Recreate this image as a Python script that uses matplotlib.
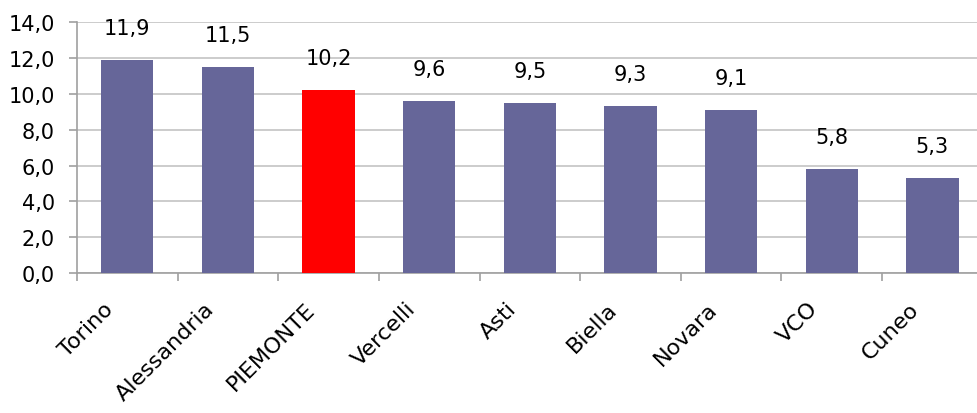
import numpy as np
import matplotlib.pyplot as plt
from matplotlib.transforms import ScaledTranslation

# province values
provinces = ['Torino', 'Alessandria', 'PIEMONTE', 'Vercelli', 'Asti', 'Biella', 'Novara', 'VCO', 'Cuneo']
values = [11.9, 11.5, 10.2, 9.6, 9.5, 9.3, 9.1, 5.8, 5.3]
y_ticks = [0, 2, 4, 6, 8, 10, 12, 14]

plt.rcParams['font.family'] = ['DejaVu Sans']

fig = plt.figure(figsize=(9.77, 4.14), dpi=100)
ax = fig.add_axes([0.0788, 0.338, 0.927, 0.606])

x = np.arange(len(provinces))
colors = ['#ff0000' if p == 'PIEMONTE' else '#666699' for p in provinces]
ax.bar(x, values, width=0.52, color=colors, zorder=3)

for xi, v in zip(x, values):
    ax.annotate(('%.1f' % v).replace('.', ','), xy=(xi, v), xytext=(0, 32),
                textcoords='offset pixels', ha='center', va='center', fontsize=15)

ax.set_xlim(-0.5, len(provinces) - 0.5)
ax.set_ylim(0, 14)
ax.set_yticks(y_ticks)
ax.set_yticklabels(['%d,0' % t for t in y_ticks], fontsize=15)
ax.yaxis.grid(True, color='#c8c8c8', linewidth=1.3, zorder=0)

# category labels at the bar centres, tick marks at the boundaries
ax.set_xticks(x)
ax.set_xticklabels(provinces, rotation=45, ha='right', rotation_mode='anchor', fontsize=16)
ax.set_xticks(np.arange(-0.5, len(provinces)), minor=True)
ax.tick_params(axis='x', which='major', length=0, pad=18)
ax.tick_params(axis='x', which='minor', length=6, color='#a0a0a0', width=1.2)
ax.tick_params(axis='y', length=6, color='#a0a0a0', width=1.2, pad=10)
shift = ScaledTranslation(-24 / 100, 0, fig.dpi_scale_trans)
for lbl in ax.get_xticklabels():
    lbl.set_transform(lbl.get_transform() + shift)

for side in ['top', 'right']:
    ax.spines[side].set_visible(False)
for side in ['left', 'bottom']:
    ax.spines[side].set_color('#a0a0a0')
    ax.spines[side].set_linewidth(1.2)

fig.savefig('out.png', dpi=100)
